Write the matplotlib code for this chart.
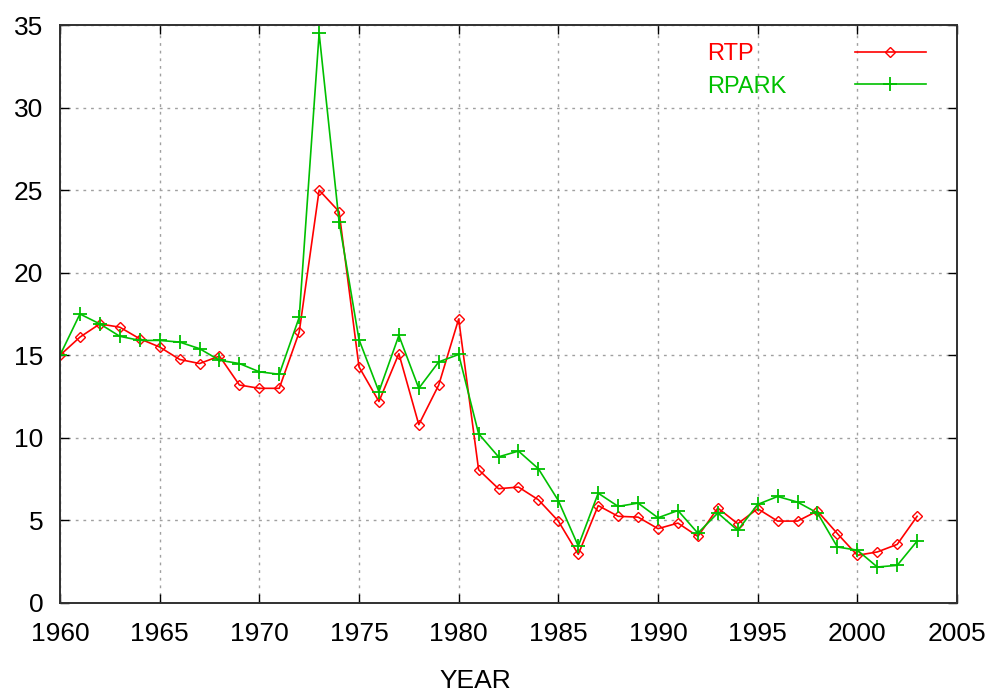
import matplotlib

matplotlib.use("Agg")
import matplotlib.pyplot as plt

# series por año (1960-2003)
years = list(range(1960, 2004))
rtp = [15.0, 16.1, 16.9, 16.7, 16.0, 15.5, 14.75, 14.5, 14.95, 13.2,
       13.0, 13.0, 16.4, 25.0, 23.7, 14.3, 12.2, 15.1, 10.8, 13.2,
       17.2, 8.07, 6.92, 7.02, 6.25, 4.96, 2.95, 5.9, 5.25, 5.2,
       4.5, 4.84, 4.03, 5.75, 4.8, 5.71, 4.96, 4.96, 5.57, 4.2,
       2.89, 3.09, 3.55, 5.25]
rpark = [15.0, 17.5, 16.9, 16.15, 15.9, 15.9, 15.8, 15.4, 14.7, 14.5,
         14.0, 13.85, 17.3, 34.5, 23.1, 15.95, 12.8, 16.2, 13.0, 14.6,
         15.05, 10.25, 8.85, 9.2, 8.13, 6.2, 3.45, 6.65, 5.85, 6.05,
         5.16, 5.6, 4.23, 5.45, 4.4, 5.97, 6.45, 6.11, 5.45, 3.39,
         3.2, 2.18, 2.28, 3.75]

x_ticks = list(range(1960, 2006, 5))
y_ticks = list(range(0, 36, 5))

ROJO = "#ff0000"
VERDE = "#00c000"

plt.rcParams["font.family"] = ["Liberation Sans", "DejaVu Sans"]

fig = plt.figure(figsize=(9.89, 6.94), dpi=100)
ax = fig.add_axes([60 / 989, 91 / 694, 897 / 989, 578 / 694])

ax.plot(years, rtp, "-", color=ROJO, lw=1.2, marker="D", ms=5.2,
        mfc="none", mec=ROJO, mew=1.0, label="RTP")
ax.plot(years, rpark, "-", color=VERDE, lw=1.2, marker="+", ms=9.5,
        mew=1.3, label="RPARK")

ax.set_xlim(1960, 2005)
ax.set_ylim(0, 35)
ax.set_xticks(x_ticks)
ax.set_yticks(y_ticks)
ax.tick_params(direction="in", length=6.5, width=1, top=True, right=True,
               labelsize=19, pad=12, colors="black")
ax.tick_params(axis="x", pad=14)
for lado in ax.spines.values():
    lado.set_linewidth(1.4)
    lado.set_color("#303030")

ax.grid(True, color="#a0a0a0", ls=(0, (2, 3.5)), lw=1.0)
ax.set_axisbelow(True)

ax.set_xlabel("YEAR", fontsize=19)
ax.xaxis.set_label_coords((475 - 60) / 897, -0.115)

leg = ax.legend(loc="upper right", bbox_to_anchor=(0.965, 0.969),
                frameon=False, markerfirst=False, numpoints=1,
                handlelength=3.0, handletextpad=2.9, labelspacing=0.45,
                borderpad=0, borderaxespad=0, labelcolor="linecolor",
                prop={"size": 17})

# textos de la leyenda alineados a la izquierda (matplotlib los alinea a la derecha)
fig.canvas.draw()
renderer = fig.canvas.get_renderer()
anchos = [t.get_window_extent(renderer).width for t in leg.texts]
for t, w in zip(leg.texts, anchos):
    t.set_x(w - max(anchos))

fig.savefig("out.png", dpi=100)
